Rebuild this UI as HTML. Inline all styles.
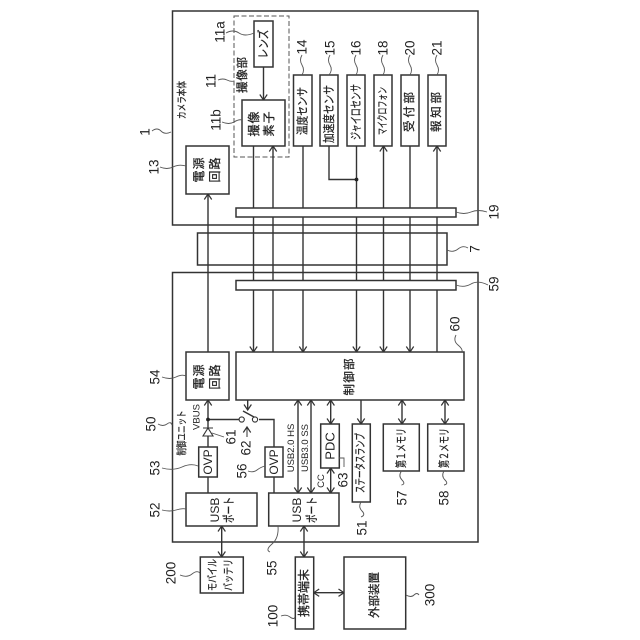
<!DOCTYPE html>
<html><head><meta charset="utf-8"><style>
html,body{margin:0;padding:0;background:#fff}
svg{display:block}
text{font-family:"Liberation Sans","Noto Sans CJK JP",sans-serif;fill:#222;text-anchor:middle;dominant-baseline:central}
.k{stroke:#222;stroke-width:.25}
.b{fill:#fff;stroke:#333;stroke-width:1.5}
.l{fill:none;stroke:#333;stroke-width:1.4}
.s{fill:none;stroke:#555;stroke-width:.9}
.n{font-size:13.5px}
</style></head><body>
<svg width="640" height="640" viewBox="0 0 640 640" xmlns="http://www.w3.org/2000/svg">
<defs>
<marker id="a" markerUnits="userSpaceOnUse" markerWidth="10" markerHeight="10" refX="7" refY="5" orient="auto-start-reverse"><path d="M1.5 1.3L7 5L1.5 8.7" fill="none" stroke="#333" stroke-width="1.2"/></marker>
</defs>
<rect x="172.5" y="11" width="305.5" height="214" fill="#fff" stroke="#333" stroke-width="1.5"/>
<rect x="172.5" y="272.5" width="305.5" height="269.5" fill="#fff" stroke="#333" stroke-width="1.5"/>
<rect x="234" y="16" width="55" height="141" fill="none" stroke="#555" stroke-width="1" stroke-dasharray="5 2.5"/>
<rect class="b" x="197.5" y="233" width="249.5" height="32"/>
<g class="l">
<path d="M208 352V194" marker-end="url(#a)"/>
<path d="M253.5 146V352" marker-end="url(#a)"/>
<path d="M273 352V146" marker-end="url(#a)"/>
<path d="M303 146V352" marker-end="url(#a)"/>
<path d="M356.5 146V352" marker-end="url(#a)"/>
<path d="M383.5 146V352" marker-start="url(#a)" marker-end="url(#a)"/>
<path d="M410 146V352" marker-end="url(#a)"/>
<path d="M437 352V146" marker-end="url(#a)"/>
<path d="M329 146V179.500H356.500"/>
<path d="M263.500 67V100" marker-end="url(#a)"/>
</g>
<circle cx="356.500" cy="179.500" r="1.900" fill="#222"/>
<rect class="b" x="236" y="208" width="220" height="9"/>
<rect class="b" x="236" y="280.500" width="220" height="9.500"/>
<g class="l">
<path d="M208 447V400" marker-end="url(#a)"/>
<path d="M208 419.500H239"/>
<path d="M259 419.500H274V447"/>
<path d="M247.700 400V410" marker-end="url(#a)"/>
<path d="M243 411L254 417"/>
<path d="M208 477V493"/>
<path d="M274 477V493"/>
<path d="M298 400V493" marker-start="url(#a)" marker-end="url(#a)"/>
<path d="M311 400V493" marker-start="url(#a)" marker-end="url(#a)"/>
<path d="M330.700 400V424" marker-start="url(#a)" marker-end="url(#a)"/>
<path d="M330.700 468V493" marker-start="url(#a)" marker-end="url(#a)"/>
<path d="M361 400V424" marker-end="url(#a)"/>
<path d="M402 400V424" marker-start="url(#a)" marker-end="url(#a)"/>
<path d="M445 400V424" marker-start="url(#a)" marker-end="url(#a)"/>
<path d="M221.700 526V557" marker-start="url(#a)" marker-end="url(#a)"/>
<path d="M304 526V557" marker-start="url(#a)" marker-end="url(#a)"/>
<path d="M313.700 592.700H344" marker-start="url(#a)" marker-end="url(#a)"/>
<path d="M247 437V427" marker-end="url(#a)" stroke-width="1"/>
</g>
<circle cx="208" cy="419.500" r="1.900" fill="#222"/>
<circle cx="241.700" cy="419.500" r="2.600" fill="#fff" stroke="#333" stroke-width="1.100"/>
<circle cx="255" cy="419.500" r="2.600" fill="#fff" stroke="#333" stroke-width="1.100"/>
<path d="M203 436L213 436L208 428ZM203 428H213" fill="#fff" stroke="#333" stroke-width="1.100"/>
<g class="b">
<rect x="254" y="21" width="19" height="46"/>
<rect x="242" y="100" width="43" height="46"/>
<rect x="186" y="146" width="43" height="48"/>
<rect x="293.500" y="75" width="18.500" height="71"/>
<rect x="320" y="75" width="18" height="71"/>
<rect x="347" y="75" width="18" height="71"/>
<rect x="374" y="75" width="18" height="71"/>
<rect x="401" y="75" width="18" height="71"/>
<rect x="428" y="75" width="18" height="71"/>
<rect x="186" y="352" width="43" height="48"/>
<rect x="236" y="352" width="228" height="48"/>
<rect x="198.700" y="447" width="18.600" height="30"/>
<rect x="265" y="447" width="18" height="30"/>
<rect x="186" y="493" width="71" height="33"/>
<rect x="268.700" y="493" width="70.300" height="33"/>
<rect x="320.700" y="424" width="18.600" height="44"/>
<rect x="352.300" y="424" width="18" height="78"/>
<rect x="383.300" y="424" width="36" height="47"/>
<rect x="427.700" y="424" width="36.300" height="47"/>
<rect x="200.300" y="557" width="43" height="36"/>
<rect x="295.300" y="557" width="18.400" height="72"/>
<rect x="344" y="557" width="61.700" height="72"/>
</g>
<g class="s">
<path d="M152 131Q157 127 161 131T171 132"/>
<path d="M226 33Q233 29 239 33T254 33"/>
<path d="M218 80Q223 78 227 80T234 81"/>
<path d="M222 122Q229 125 234 122T242 120"/>
<path d="M160 167Q167 170 173 167T186 166"/>
<path d="M302 55Q299 60 302 65T302 75"/>
<path d="M330 55Q327 60 330 65T329 75"/>
<path d="M356 55Q353 60 356 65T356 75"/>
<path d="M383 55Q380 60 383 65T383 75"/>
<path d="M410 55Q407 60 410 65T410 75"/>
<path d="M437 55Q434 60 437 65T437 75"/>
<path d="M456 212Q464 215 471 212T487 212"/>
<path d="M447 250Q453 253 458 249T468 248"/>
<path d="M456 285Q464 288 471 284T488 285"/>
<path d="M456 335Q453 341 458 345T462 352"/>
<path d="M162 377Q170 380 176 377T186 376"/>
<path d="M158 424Q163 427 167 424T172 425"/>
<path d="M212 433L224 437"/>
<path d="M162 468Q173 471 182 467T198 466"/>
<path d="M248 471Q253 473 257 470T265 466"/>
<path d="M162 510Q170 512 176 510T186 509"/>
<path d="M339 458H344V467"/>
<path d="M361 502Q358 507 362 511T361 517"/>
<path d="M401.500 471Q398 476 402 480T401.500 485"/>
<path d="M444 471Q441 476 445 480T444 485"/>
<path d="M180 575Q187 578 192 574T200 573"/>
<path d="M278 526Q279 538 272 544T270 552"/>
<path d="M281 616Q286 614 290 617T295 617"/>
<path d="M406 595Q411 598 414 595T419 595"/>
</g>
<g class="n">
<text transform="translate(145 132) rotate(-90)">1</text>
<text transform="translate(220 32) rotate(-90)">11a</text>
<text transform="translate(211 81) rotate(-90)">11</text>
<text transform="translate(216 120) rotate(-90)">11b</text>
<text transform="translate(154 167) rotate(-90)">13</text>
<text transform="translate(302 47) rotate(-90)">14</text>
<text transform="translate(330 48) rotate(-90)">15</text>
<text transform="translate(356 48) rotate(-90)">16</text>
<text transform="translate(383 48) rotate(-90)">18</text>
<text transform="translate(410 48) rotate(-90)">20</text>
<text transform="translate(437 48) rotate(-90)">21</text>
<text transform="translate(494 212) rotate(-90)">19</text>
<text transform="translate(475 249) rotate(-90)">7</text>
<text transform="translate(494 284) rotate(-90)">59</text>
<text transform="translate(455 324) rotate(-90)">60</text>
<text transform="translate(155 377) rotate(-90)">54</text>
<text transform="translate(151 424) rotate(-90)">50</text>
<text transform="translate(231 437) rotate(-90)">61</text>
<text transform="translate(246 448) rotate(-90)">62</text>
<text transform="translate(155 468) rotate(-90)">53</text>
<text transform="translate(242 471) rotate(-90)">56</text>
<text transform="translate(155 510) rotate(-90)">52</text>
<text transform="translate(343 480) rotate(-90)">63</text>
<text transform="translate(362 528) rotate(-90)">51</text>
<text transform="translate(402 498) rotate(-90)">57</text>
<text transform="translate(444 498) rotate(-90)">58</text>
<text transform="translate(171 573) rotate(-90)">200</text>
<text transform="translate(272 568) rotate(-90)">55</text>
<text transform="translate(273 616) rotate(-90)">100</text>
<text transform="translate(430 595) rotate(-90)">300</text>
</g>
<g class="k">
<text transform="translate(263.500 44) rotate(-90)" font-size="12" textLength="29" lengthAdjust="spacingAndGlyphs">レンズ</text>
<text transform="translate(243 75) rotate(-90)" font-size="11.500" textLength="36">撮像部</text>
<text transform="translate(183 100) rotate(-90)" font-size="10" textLength="38" lengthAdjust="spacingAndGlyphs">カメラ本体</text>
<text transform="translate(254 124) rotate(-90)" font-size="12" textLength="25">撮像</text>
<text transform="translate(269 124) rotate(-90)" font-size="12" textLength="25">素子</text>
<text transform="translate(199 170) rotate(-90)" font-size="12" textLength="25">電源</text>
<text transform="translate(215 170) rotate(-90)" font-size="12" textLength="25">回路</text>
<text transform="translate(302.500 111) rotate(-90)" font-size="12" textLength="48" lengthAdjust="spacingAndGlyphs">温度センサ</text>
<text transform="translate(329 114) rotate(-90)" font-size="12" textLength="58" lengthAdjust="spacingAndGlyphs">加速度センサ</text>
<text transform="translate(356 112) rotate(-90)" font-size="12" textLength="56" lengthAdjust="spacingAndGlyphs">ジャイロセンサ</text>
<text transform="translate(383 111) rotate(-90)" font-size="11" textLength="48" lengthAdjust="spacingAndGlyphs">マイクロフォン</text>
<text transform="translate(410 112) rotate(-90)" font-size="11.500" textLength="40">受付部</text>
<text transform="translate(437 112) rotate(-90)" font-size="11.500" textLength="40">報知部</text>
<text transform="translate(199 377) rotate(-90)" font-size="12" textLength="25">電源</text>
<text transform="translate(215 377) rotate(-90)" font-size="12" textLength="25">回路</text>
<text transform="translate(350 377) rotate(-90)" font-size="11.500" textLength="37">制御部</text>
<text transform="translate(182 433) rotate(-90)" font-size="10.500" textLength="45" lengthAdjust="spacingAndGlyphs">制御ユニット</text>
<text transform="translate(361 463) rotate(-90)" font-size="11.500" textLength="60" lengthAdjust="spacingAndGlyphs">ステータスランプ</text>
<text transform="translate(402 448) rotate(-90)" font-size="11.500" textLength="40" lengthAdjust="spacingAndGlyphs">第１メモリ</text>
<text transform="translate(445 448) rotate(-90)" font-size="11.500" textLength="40" lengthAdjust="spacingAndGlyphs">第２メモリ</text>
<text transform="translate(229 510) rotate(-90)" font-size="12" textLength="26" lengthAdjust="spacingAndGlyphs">ポート</text>
<text transform="translate(312 510) rotate(-90)" font-size="12" textLength="26" lengthAdjust="spacingAndGlyphs">ポート</text>
<text transform="translate(213 575) rotate(-90)" font-size="11" textLength="32" lengthAdjust="spacingAndGlyphs">モバイル</text>
<text transform="translate(229 575) rotate(-90)" font-size="11" textLength="32" lengthAdjust="spacingAndGlyphs">バッテリ</text>
<text transform="translate(304 593) rotate(-90)" font-size="12" textLength="48">携帯端末</text>
<text transform="translate(375 595) rotate(-90)" font-size="11.500" textLength="46">外部装置</text>
</g>
<text transform="translate(197 417) rotate(-90)" font-size="9.500">VBUS</text>
<text transform="translate(208 462) rotate(-90)" font-size="12">OVP</text>
<text transform="translate(274 462) rotate(-90)" font-size="12">OVP</text>
<text transform="translate(291.700 448) rotate(-90)" font-size="9.500">USB2.0 HS</text>
<text transform="translate(305.700 448) rotate(-90)" font-size="9.500">USB3.0 SS</text>
<text transform="translate(330 446) rotate(-90)" font-size="13">PDC</text>
<text transform="translate(321.700 481) rotate(-90)" font-size="9.500">CC</text>
<text transform="translate(215 510) rotate(-90)" font-size="12">USB</text>
<text transform="translate(297 510) rotate(-90)" font-size="12">USB</text>
</svg>
</body></html>
